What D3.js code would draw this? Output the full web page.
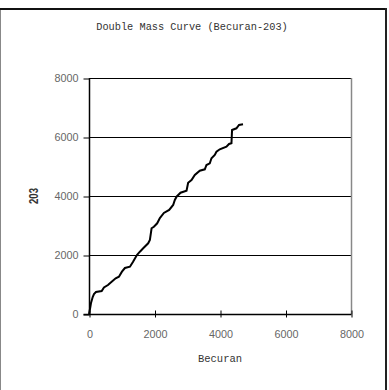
<!DOCTYPE html>
<html><head><meta charset="utf-8">
<script src="https://cdn.jsdelivr.net/npm/d3@7/dist/d3.min.js"></script>
<style>body{margin:0;background:#fff;}svg{display:block;}</style>
</head><body>
<svg id="chart" width="389" height="390"></svg>
<script>
const title = "Double Mass Curve (Becuran-203)";
const xLabel = "Becuran";
const yLabel = "203";
const xTicks = [0, 2000, 4000, 6000, 8000];
const yTicks = [0, 2000, 4000, 6000, 8000];
const becuran = [0, 30, 61, 113, 152, 213, 387, 457, 579, 692, 814, 914, 1006, 1097, 1250, 1341, 1463, 1554, 1655, 1807, 1859, 1911, 1981, 2082, 2164, 2286, 2448, 2570, 2621, 2673, 2795, 2978, 3027, 3130, 3231, 3383, 3536, 3587, 3688, 3740, 3840, 3892, 3993, 4197, 4276, 4350, 4368, 4502, 4581, 4703];
const station203 = [0, 170, 373, 576, 678, 746, 780, 898, 983, 1095, 1210, 1264, 1434, 1559, 1603, 1763, 2000, 2112, 2227, 2397, 2509, 2905, 2959, 3075, 3254, 3424, 3526, 3695, 3865, 3977, 4112, 4180, 4451, 4543, 4712, 4858, 4905, 5051, 5109, 5278, 5390, 5502, 5583, 5671, 5763, 5787, 6238, 6295, 6407, 6431];

(function () {
const svg = d3.select("#chart");
const W = 389, H = 390;
const mL = 89, mR = 351, mT = 78, mB = 314;

// outer frame
svg.append("line").attr("x1", 0.5).attr("x2", 0.5).attr("y1", 9).attr("y2", H).attr("stroke", "#888").attr("stroke-width", 1);
svg.append("line").attr("x1", 0).attr("x2", 387).attr("y1", 9).attr("y2", 9).attr("stroke", "#111").attr("stroke-width", 2);
svg.append("line").attr("x1", 386).attr("x2", 386).attr("y1", 8).attr("y2", H).attr("stroke", "#222").attr("stroke-width", 2);

const x = d3.scaleLinear().domain([0, 8000]).range([mL, mR]);
const y = d3.scaleLinear().domain([0, 8000]).range([mB, mT]);

// gridlines
svg.append("g").selectAll("line").data(yTicks.filter(d => d > 0)).join("line")
  .attr("x1", mL).attr("x2", mR)
  .attr("y1", d => Math.round(y(d)) + 0.5).attr("y2", d => Math.round(y(d)) + 0.5)
  .attr("stroke", "#000").attr("stroke-width", 1);
// right plot border
svg.append("line").attr("x1", mR + 0.5).attr("x2", mR + 0.5).attr("y1", mT).attr("y2", mB)
  .attr("stroke", "#888").attr("stroke-width", 1.5);

// y axis
const yAxis = d3.axisLeft(y).tickValues(yTicks).tickSize(6).tickPadding(5).tickFormat(d3.format("d"));
const gy = svg.append("g").attr("transform", `translate(${mL + 0.5},0.5)`).call(yAxis);
gy.select(".domain").attr("stroke", "#000").attr("stroke-width", 1.5).attr("d", `M0,${mT - 0.5}V${mB}`);
gy.selectAll(".tick line").attr("stroke", "#000");
gy.selectAll("text").attr("fill", "#666").style("font-family", "'Liberation Sans', Arial, sans-serif").style("font-size", "10.8px");

// x axis
const xAxis = d3.axisBottom(x).tickValues(xTicks).tickSize(0).tickPadding(16).tickFormat(d3.format("d"));
const gx = svg.append("g").attr("transform", `translate(0.5,${mB + 0.5})`).call(xAxis);
gx.select(".domain").attr("stroke", "#000").attr("stroke-width", 1.5).attr("d", `M${mL - 6},0H${mR}`);
gx.selectAll(".tick").append("line").attr("y1", -4).attr("y2", 3).attr("stroke", "#000");
gx.selectAll("text").attr("fill", "#666").style("font-family", "'Liberation Sans', Arial, sans-serif").style("font-size", "10.8px");

// curve
const pts = becuran.map((v, i) => [v, station203[i]]);
svg.append("path").datum(pts)
  .attr("fill", "none").attr("stroke", "#000").attr("stroke-width", 2).attr("stroke-linejoin", "miter")
  .attr("d", d3.line().x(d => x(d[0])).y(d => y(d[1])));

// title
svg.append("text").attr("x", 192).attr("y", 30).attr("text-anchor", "middle")
  .style("font-family", "'Liberation Mono', 'Courier New', monospace").style("font-size", "10.3px").attr("fill", "#333")
  .text(title);
// x label
svg.append("text").attr("x", (mL + mR) / 2).attr("y", 362).attr("text-anchor", "middle")
  .style("font-family", "'Liberation Mono', 'Courier New', monospace").style("font-size", "10.5px").attr("fill", "#333")
  .text(xLabel);
// y label
svg.append("text").attr("transform", `translate(38,${(mT + mB) / 2}) rotate(-90)`).attr("text-anchor", "middle")
  .attr("textLength", 16).attr("lengthAdjust", "spacingAndGlyphs")
  .style("font-family", "'Liberation Sans', Arial, sans-serif").style("font-size", "12px").style("font-weight", "bold").attr("fill", "#333")
  .text(yLabel);
})();
</script>
</body></html>
